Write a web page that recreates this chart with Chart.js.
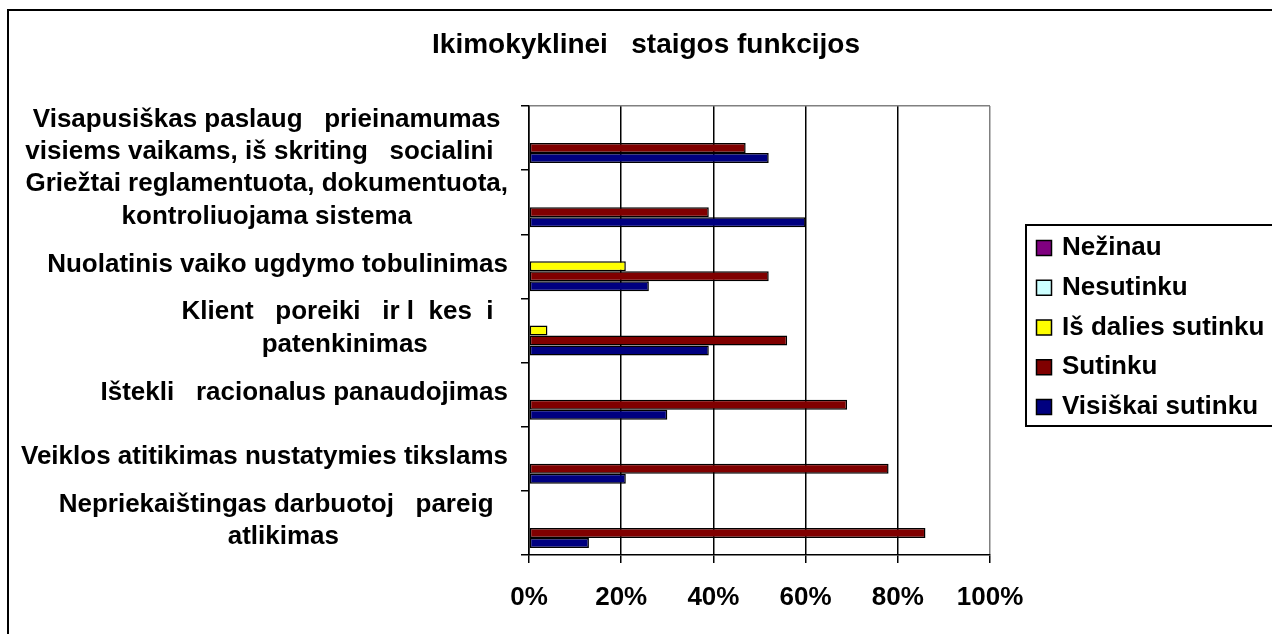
<!DOCTYPE html>
<html>
<head>
<meta charset="utf-8">
<script src="https://cdn.jsdelivr.net/npm/chart.js@4.4.1/dist/chart.umd.min.js"></script>
<style>
  html, body { margin: 0; padding: 0; background: #fff; }
  #wrap { width: 1272px; height: 634px; }
</style>
</head>
<body>
<div id="wrap"><canvas id="chart" width="1272" height="634"></canvas></div>
<script>
const FONT = '"Liberation Sans", Arial, Helvetica, sans-serif';

const TITLE = 'Ikimokyklinei   staigos funkcijos';

// Category labels, top to bottom (one array entry per text line)
const categories = [
  ['Visapusiškas paslaug   prieinamumas', 'visiems vaikams, iš skriting   socialini  '],
  ['Griežtai reglamentuota, dokumentuota,', 'kontroliuojama sistema'],
  ['Nuolatinis vaiko ugdymo tobulinimas'],
  ['Klient   poreiki   ir l  kes  i  ', 'patenkinimas'],
  ['Ištekli   racionalus panaudojimas'],
  ['Veiklos atitikimas nustatymies tikslams'],
  ['Nepriekaištingas darbuotoj   pareig  ', 'atlikimas']
];

const seriesNames = ['Nežinau', 'Nesutinku', 'Iš dalies sutinku', 'Sutinku', 'Visiškai sutinku'];
const seriesColors = ['#800080', '#CCFFFF', '#FFFF00', '#800000', '#000080'];

// Shares of answers, %
const nezinau   = [0, 0, 0, 0, 0, 0, 0];
const nesutinku = [0, 0, 0, 0, 0, 0, 0];
const isDalies  = [0, 0, 21, 4, 0, 0, 0];
const sutinku   = [47, 39, 52, 56, 69, 78, 86];
const visiskai  = [52, 60, 26, 39, 30, 21, 13];

const xTicks = [0, 20, 40, 60, 80, 100];

const seriesValues = [nezinau, nesutinku, isDalies, sutinku, visiskai];

// Outer frame of the chart object
const frame = {
  id: 'frame',
  beforeDraw(chart) {
    const ctx = chart.ctx;
    ctx.save();
    ctx.fillStyle = '#fff';
    ctx.fillRect(0, 0, chart.width, chart.height);
    ctx.strokeStyle = '#000';
    ctx.lineWidth = 2;
    ctx.strokeRect(8, 10, chart.width + 40, chart.height + 40);
    ctx.restore();
  }
};

// Category labels: each block right-aligned to the axis, its lines centred
const categoryLabels = {
  id: 'categoryLabels',
  afterDraw(chart) {
    const s = chart.scales.y;
    const ctx = chart.ctx;
    const right = s.right - 21;
    ctx.save();
    ctx.font = 'bold 26px ' + FONT;
    ctx.fillStyle = '#000';
    ctx.textAlign = 'center';
    ctx.textBaseline = 'middle';
    s.ticks.forEach((t, i) => {
      const lines = chart.data.labels[i];
      const w = Math.max(...lines.map(l => ctx.measureText(l).width));
      const cx = right - w / 2;
      const cy = s.getPixelForTick(i) - 2;
      lines.forEach((l, j) => {
        ctx.fillText(l, cx, cy + (j - (lines.length - 1) / 2) * 32.5);
      });
    });
    ctx.restore();
  }
};

// Framed legend to the right of the plot area
const legendBox = {
  id: 'legendBox',
  afterDraw(chart) {
    const ctx = chart.ctx;
    const a = chart.chartArea;
    const x0 = a.right + 36, y0 = 225, step = 39.75;
    ctx.save();
    ctx.strokeStyle = '#000';
    ctx.lineWidth = 2;
    ctx.strokeRect(x0, y0, 400, 201);
    ctx.font = 'bold 26px ' + FONT;
    ctx.textBaseline = 'middle';
    ctx.textAlign = 'left';
    chart.data.datasets.forEach((d, i) => {
      const cy = y0 + 23 + i * step;
      ctx.fillStyle = d.backgroundColor;
      ctx.fillRect(x0 + 10.5, cy - 7.5, 15, 15);
      ctx.lineWidth = 1.5;
      ctx.strokeRect(x0 + 10.5, cy - 7.5, 15, 15);
      ctx.fillStyle = '#000';
      ctx.fillText(d.label, x0 + 36, cy);
    });
    ctx.restore();
  }
};

Chart.defaults.font.family = FONT;

new Chart(document.getElementById('chart'), {
  type: 'bar',
  data: {
    labels: categories,
    datasets: seriesNames.map((name, i) => ({
      label: name,
      data: seriesValues[i],
      backgroundColor: seriesColors[i],
      borderColor: '#000',
      borderWidth: 1.5,
      borderSkipped: false,
      categoryPercentage: 0.78,
      barPercentage: 1.0
    }))
  },
  options: {
    indexAxis: 'y',
    responsive: false,
    animation: false,
    devicePixelRatio: 1,
    layout: { padding: { left: 20, right: 0, top: 0, bottom: 0 } },
    plugins: {
      legend: { display: false },
      tooltip: { enabled: false },
      title: {
        display: true,
        text: TITLE,
        color: '#000',
        font: { size: 28, weight: 'bold', family: FONT },
        padding: { top: 28, bottom: 44.4 }
      }
    },
    scales: {
      x: {
        min: 0,
        max: 100,
        afterBuildTicks(s) { s.ticks = xTicks.map(v => ({ value: v })); },
        afterFit(s) { s.height = 79; },
        border: { display: true, color: '#000', width: 1.5 },
        grid: {
          color: c => (c.tick && c.tick.value === 100) ? '#808080' : '#000',
          tickColor: '#000',
          tickLength: 8,
          lineWidth: 1.5
        },
        ticks: {
          color: '#000',
          font: { size: 26, weight: 'bold', family: FONT },
          padding: 19,
          callback: v => v + '%'
        }
      },
      y: {
        afterFit(s) { s.width = 509; },
        border: { display: true, color: '#000', width: 1.5 },
        grid: {
          offset: true,
          color: c => c.index === 0 ? '#808080' : 'rgba(0,0,0,0)',
          tickColor: '#000',
          tickLength: 8,
          lineWidth: 1.5
        },
        ticks: { display: false }
      },
      legendSpace: {
        type: 'linear',
        position: 'right',
        display: true,
        grid: { display: false },
        border: { display: false },
        ticks: { display: false },
        afterFit(s) { s.width = 282; }
      }
    }
  },
  plugins: [frame, categoryLabels, legendBox]
});
</script>
</body>
</html>
